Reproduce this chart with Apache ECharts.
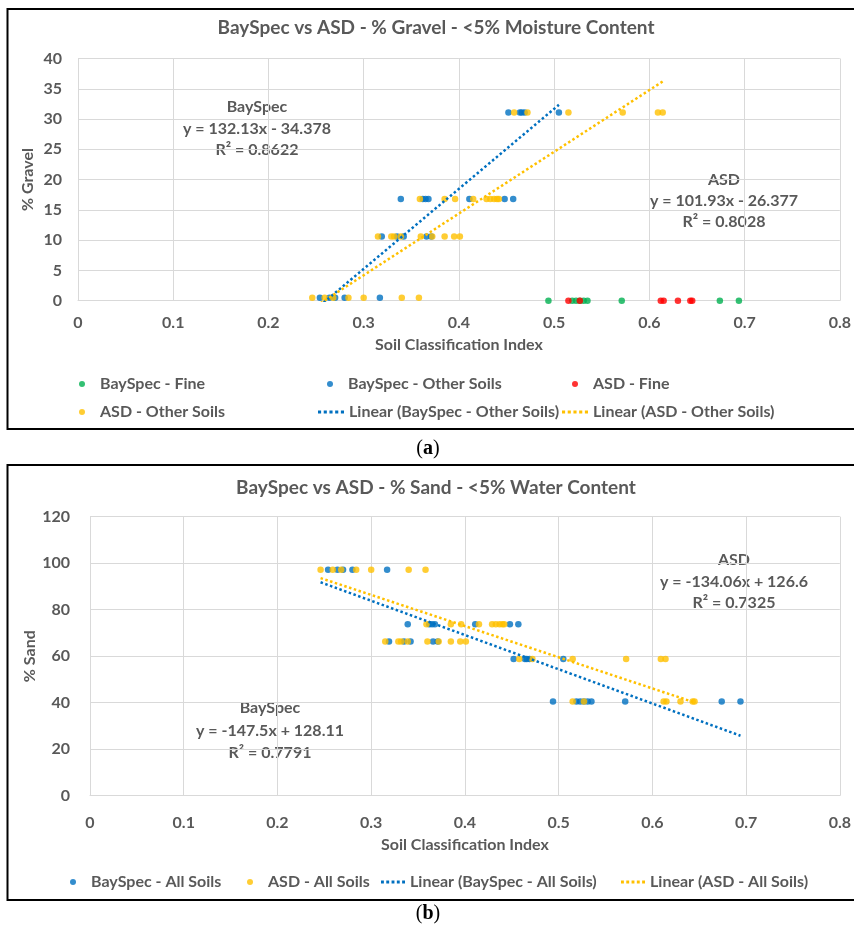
<!DOCTYPE html>
<html>
<head>
<meta charset="utf-8">
<script src="https://cdn.jsdelivr.net/npm/echarts@6/dist/echarts.min.js"></script>
<style>
  html, body { margin: 0; padding: 0; background: #ffffff; }
  #chart { width: 854px; height: 934px; }
</style>
</head>
<body>
<div id="chart"></div>
<script>
// ---------------- DATA ----------------
// Soil Classification Index (SCI) values
const bayFineSci    = [0.494, 0.519, 0.523, 0.527, 0.531, 0.535, 0.571, 0.674, 0.694];
const bayFineGravel = [0, 0, 0, 0, 0, 0, 0, 0, 0];
const bayFineSand   = [40.5, 40.5, 40.5, 40.5, 40.5, 40.5, 40.5, 40.5, 40.5];

const asdFineSci    = [0.515, 0.527, 0.612, 0.615, 0.630, 0.643, 0.645];
const asdFineGravel = [0, 0, 0, 0, 0, 0, 0];
const asdFineSand   = [40.5, 40.5, 40.5, 40.5, 40.5, 40.5, 40.5];

const bayOtherSci    = [0.254, 0.264, 0.270, 0.280, 0.317,
                        0.319, 0.335, 0.342, 0.366, 0.371,
                        0.339, 0.362, 0.365, 0.368, 0.411, 0.448, 0.457,
                        0.452, 0.464, 0.466, 0.469, 0.505];
const bayOtherGravel = [0.5, 0.5, 0.5, 0.5, 0.5,
                        10.6, 10.6, 10.6, 10.6, 10.6,
                        16.8, 16.8, 16.8, 16.8, 16.8, 16.8, 16.8,
                        31.1, 31.1, 31.1, 31.1, 31.1];
const bayOtherSand   = [97.2, 97.2, 97.2, 97.2, 97.2,
                        66.3, 66.3, 66.3, 66.3, 66.3,
                        73.7, 73.7, 73.7, 73.7, 73.7, 73.7, 73.7,
                        58.8, 58.8, 58.8, 58.8, 58.8];

const asdOtherSci    = [0.246, 0.259, 0.268, 0.284, 0.300, 0.340, 0.358,
                        0.315, 0.329, 0.332, 0.339, 0.360, 0.372, 0.385, 0.395, 0.401,
                        0.359, 0.385, 0.396, 0.415, 0.429, 0.433, 0.437, 0.440, 0.442,
                        0.458, 0.472, 0.515, 0.572, 0.609, 0.614];
const asdOtherGravel = [0.5, 0.5, 0.5, 0.5, 0.5, 0.5, 0.5,
                        10.6, 10.6, 10.6, 10.6, 10.6, 10.6, 10.6, 10.6, 10.6,
                        16.8, 16.8, 16.8, 16.8, 16.8, 16.8, 16.8, 16.8, 16.8,
                        31.1, 31.1, 31.1, 31.1, 31.1, 31.1];
const asdOtherSand   = [97.2, 97.2, 97.2, 97.2, 97.2, 97.2, 97.2,
                        66.3, 66.3, 66.3, 66.3, 66.3, 66.3, 66.3, 66.3, 66.3,
                        73.7, 73.7, 73.7, 73.7, 73.7, 73.7, 73.7, 73.7, 73.7,
                        58.8, 58.8, 58.8, 58.8, 58.8, 58.8];

// Trend-line end points
const trendBayGravelX = [0.254, 0.505];
const trendBayGravelY = [-0.82, 32.35];
const trendAsdGravelX = [0.246, 0.614];
const trendAsdGravelY = [-1.30, 36.21];
const trendBaySandX   = [0.246, 0.694];
const trendBaySandY   = [91.8, 25.8];
const trendAsdSandX   = [0.246, 0.645];
const trendAsdSandY   = [93.6, 40.1];

// Axis ticks
const xTicks = [0, 0.1, 0.2, 0.3, 0.4, 0.5, 0.6, 0.7, 0.8];
const gravelTicks = [0, 5, 10, 15, 20, 25, 30, 35, 40];
const sandTicks = [0, 20, 40, 60, 80, 100, 120];

// ---------------- STYLE ----------------
const FONT = 'Lato';
const TXT = '#595959';
const GRID = '#D9D9D9';
const C_GREEN = '#00B050', C_BLUE = '#0070C0', C_RED = '#FF0000', C_YEL = '#FFC000';
const DOT_ICON = 'path://M0,0h3v3h-3z M5.5,0h3v3h-3z M11,0h3v3h-3z M16.5,0h3v3h-3z M22,0h3v3h-3z';

function zip(xs, ys) { return xs.map((x, i) => [x, ys[i]]); }

function scatter(name, xs, ys, color, idx) {
  return { name, type: 'scatter', xAxisIndex: idx, yAxisIndex: idx,
    data: zip(xs, ys), symbol: 'circle', symbolSize: 6.5,
    itemStyle: { color }, z: 3 };
}
function trend(name, xs, ys, color, idx) {
  return { name, type: 'line', xAxisIndex: idx, yAxisIndex: idx,
    data: zip(xs, ys), symbol: 'none', showSymbol: false, clip: true,
    lineStyle: { color, width: 2.5, type: [2.5, 2.5] }, itemStyle: { color }, z: 4 };
}

function xAxis(idx, margin, nameGap) {
  return { type: 'value', gridIndex: idx, min: xTicks[0], max: xTicks[xTicks.length - 1], interval: 0.1,
    name: 'Soil Classification Index', nameLocation: 'middle', nameGap, nameMoveOverlap: false,
    nameTextStyle: { color: TXT, fontSize: 16, fontWeight: 'bold', fontFamily: FONT },
    axisLine: { show: true, lineStyle: { color: GRID, width: 1 } },
    axisTick: { show: false },
    axisLabel: { color: TXT, fontSize: 16, fontWeight: 'bold', fontFamily: FONT, margin },
    splitLine: { show: true, lineStyle: { color: GRID, width: 1 } } };
}
function yAxis(idx, name, ticks, interval, margin, nameGap) {
  return { type: 'value', gridIndex: idx, min: ticks[0], max: ticks[ticks.length - 1], interval,
    name, nameLocation: 'middle', nameGap, nameRotate: 90, nameMoveOverlap: false,
    nameTextStyle: { color: TXT, fontSize: 16, fontWeight: 'bold', fontFamily: FONT },
    axisLine: { show: false }, axisTick: { show: false },
    axisLabel: { color: TXT, fontSize: 16, fontWeight: 'bold', fontFamily: FONT, margin },
    splitLine: { show: true, lineStyle: { color: GRID, width: 1 } } };
}
function leg(name, left, top, w, icon) {
  const item = icon ? { name, icon } : { name };
  return { data: [item], left, top, padding: 0, itemWidth: w, itemHeight: 6,
    selectedMode: false,
    textStyle: { color: TXT, fontSize: 16, fontWeight: 'bold', fontFamily: FONT } };
}
function txt(text, x, y, size) {
  return { type: 'text', x, y, style: { text, fill: TXT, font: 'bold ' + size + 'px ' + FONT,
    textAlign: 'center', textVerticalAlign: 'middle' } };
}

const option = {
  backgroundColor: '#ffffff',
  animation: false,
  grid: [
    { left: 78, top: 58.5, width: 767, height: 242.2 },
    { left: 90, top: 516.7, width: 753.5, height: 279 }
  ],
  xAxis: [ xAxis(0, 14, 36), xAxis(1, 19, 41) ],
  yAxis: [ yAxis(0, '% Gravel', gravelTicks, 5, 16, 42), yAxis(1, '% Sand', sandTicks, 20, 20, 52) ],
  legend: [
    leg('BaySpec - Fine', 79, 376, 26),
    leg('BaySpec - Other Soils', 327, 376, 26),
    leg('ASD - Fine', 572, 376, 26),
    leg('ASD - Other Soils', 79, 404, 26),
    leg('Linear (BaySpec - Other Soils)', 318, 404, 26, DOT_ICON),
    leg('Linear (ASD - Other Soils)', 562, 404, 26, DOT_ICON),
    leg('BaySpec - All Soils', 70, 874, 26),
    leg('ASD - All Soils', 247, 874, 26),
    leg('Linear (BaySpec - All Soils)', 381, 874, 24, DOT_ICON),
    leg('Linear (ASD - All Soils)', 621, 874, 24, DOT_ICON)
  ],
  series: [
    scatter('BaySpec - Fine', bayFineSci, bayFineGravel, C_GREEN, 0),
    scatter('BaySpec - Other Soils', bayOtherSci, bayOtherGravel, C_BLUE, 0),
    scatter('ASD - Fine', asdFineSci, asdFineGravel, C_RED, 0),
    scatter('ASD - Other Soils', asdOtherSci, asdOtherGravel, C_YEL, 0),
    trend('Linear (BaySpec - Other Soils)', trendBayGravelX, trendBayGravelY, C_BLUE, 0),
    trend('Linear (ASD - Other Soils)', trendAsdGravelX, trendAsdGravelY, C_YEL, 0),
    scatter('BaySpec - All Soils', bayOtherSci.concat(bayFineSci), bayOtherSand.concat(bayFineSand), C_BLUE, 1),
    scatter('ASD - All Soils', asdOtherSci.concat(asdFineSci), asdOtherSand.concat(asdFineSand), C_YEL, 1),
    trend('Linear (BaySpec - All Soils)', trendBaySandX, trendBaySandY, C_BLUE, 1),
    trend('Linear (ASD - All Soils)', trendAsdSandX, trendAsdSandY, C_YEL, 1)
  ],
  graphic: [
    { type: 'rect', shape: { x: 7.5, y: 9, width: 870, height: 420 }, style: { fill: 'none', stroke: '#000', lineWidth: 2 }, z: 10 },
    { type: 'rect', shape: { x: 7.5, y: 465, width: 870, height: 435 }, style: { fill: 'none', stroke: '#000', lineWidth: 2 }, z: 10 },
    txt('BaySpec vs ASD - % Gravel - <5% Moisture Content', 436, 28, 19),
    txt('BaySpec vs ASD - % Sand - <5% Water Content', 436, 488, 19),
    txt('BaySpec', 257, 107, 16),
    txt('y = 132.13x - 34.378', 257, 129, 16),
    txt('R\u00B2 = 0.8622', 257, 150, 16),
    txt('ASD', 724, 180, 16),
    txt('y = 101.93x - 26.377', 724, 201, 16),
    txt('R\u00B2 = 0.8028', 724, 222, 16),
    txt('ASD', 734, 560, 16),
    txt('y = -134.06x + 126.6', 734, 582, 16),
    txt('R\u00B2 = 0.7325', 734, 603, 16),
    txt('BaySpec', 270, 708, 16),
    txt('y = -147.5x + 128.11', 270, 731, 16),
    txt('R\u00B2 = 0.7791', 270, 753, 16),
    { type: 'text', x: 428, y: 449, style: { text: '({b|a})', fill: '#000', font: '20px "Liberation Serif"',
      textAlign: 'center', textVerticalAlign: 'middle',
      rich: { b: { fontWeight: 'bold', fontSize: 20, fontFamily: 'Liberation Serif', fill: '#000' } } } },
    { type: 'text', x: 428, y: 914, style: { text: '({b|b})', fill: '#000', font: '20px "Liberation Serif"',
      textAlign: 'center', textVerticalAlign: 'middle',
      rich: { b: { fontWeight: 'bold', fontSize: 20, fontFamily: 'Liberation Serif', fill: '#000' } } } }
  ]
};

const chart = echarts.init(document.getElementById('chart'), null, { renderer: 'canvas' });
chart.setOption(option);
</script>
</body>
</html>
